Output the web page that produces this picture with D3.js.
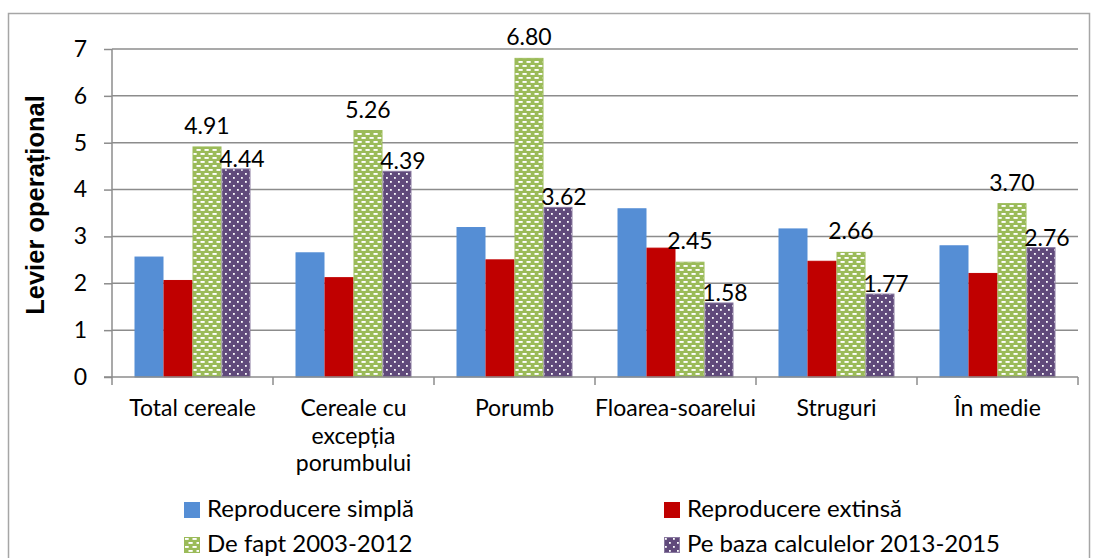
<!DOCTYPE html>
<html>
<head>
<meta charset="utf-8">
<script src="https://cdnjs.cloudflare.com/ajax/libs/d3/7.8.5/d3.min.js"></script>
<style>
  body { margin: 0; background: #fff; }
  svg { display: block; }
</style>
</head>
<body>
<svg id="chart"></svg>
<script>
// data
const categories = ["Total cereale", "Cereale cu excepția porumbului", "Porumb", "Floarea-soarelui", "Struguri", "În medie"];
const categoryLines = [["Total cereale"], ["Cereale cu", "excepția", "porumbului"], ["Porumb"], ["Floarea-soarelui"], ["Struguri"], ["În medie"]];
const seriesNames = ["Reproducere simplă", "Reproducere extinsă", "De fapt 2003-2012", "Pe baza calculelor 2013-2015"];
const simpla = [2.56, 2.65, 3.19, 3.59, 3.16, 2.80];
const extinsa = [2.06, 2.12, 2.50, 2.75, 2.47, 2.21];
const deFapt = [4.91, 5.26, 6.80, 2.45, 2.66, 3.70];
const calcule = [4.44, 4.39, 3.62, 1.58, 1.77, 2.76];
const yTicks = [0, 1, 2, 3, 4, 5, 6, 7];

const values = [simpla, extinsa, deFapt, calcule];
const labelled = [false, false, true, true];

const W = 1100, H = 558;
const font = "Lato, 'Open Sans', sans-serif";

const svg = d3.select("#chart")
    .attr("width", W)
    .attr("height", H);

const defs = svg.append("defs");

// green: white horizontal dashes, staggered
const pg = defs.append("pattern")
    .attr("id", "dash")
    .attr("patternUnits", "userSpaceOnUse")
    .attr("width", 8).attr("height", 8);
pg.append("rect").attr("width", 8).attr("height", 8).attr("fill", "#9bbb59");
pg.append("rect").attr("x", 0.5).attr("y", 1).attr("width", 4.2).attr("height", 1.9).attr("fill", "#fff");
pg.append("rect").attr("x", 4.5).attr("y", 5).attr("width", 4.2).attr("height", 1.9).attr("fill", "#fff");
pg.append("rect").attr("x", -3.5).attr("y", 5).attr("width", 4.2).attr("height", 1.9).attr("fill", "#fff");

// purple: white dots
const pp = defs.append("pattern")
    .attr("id", "dots")
    .attr("patternUnits", "userSpaceOnUse")
    .attr("width", 8).attr("height", 8);
pp.append("rect").attr("width", 8).attr("height", 8).attr("fill", "#604a7b");
pp.append("rect").attr("x", 1).attr("y", 1).attr("width", 1.8).attr("height", 1.8).attr("fill", "#fff");
pp.append("rect").attr("x", 5).attr("y", 5).attr("width", 1.8).attr("height", 1.8).attr("fill", "#fff");

const fills = ["#558ed5", "#c00000", "url(#dash)", "url(#dots)"];
const strokes = ["#558ed5", "#c00000", "#9bbb59", "#8a7aa0"];

// outer chart border
svg.append("rect")
    .attr("x", 8.5).attr("y", 13.5)
    .attr("width", 1081).attr("height", 600)
    .attr("fill", "none")
    .attr("stroke", "#a6a6a6")
    .attr("stroke-width", 1.5);

const x = d3.scaleBand()
    .domain(categories)
    .range([112, 1078]);

const xs = d3.scaleBand()
    .domain(d3.range(seriesNames.length))
    .range([22.5, x.bandwidth() - 22.5]);

const y = d3.scaleLinear()
    .domain([0, 7])
    .range([377, 49]);

// gridlines
svg.append("g")
    .selectAll("line")
    .data(yTicks.slice(1))
    .enter()
    .append("line")
    .attr("x1", 112).attr("x2", 1078)
    .attr("y1", d => y(d)).attr("y2", d => y(d))
    .attr("stroke", "#8c8c8c")
    .attr("stroke-width", 1.5);

// bars
const groups = svg.append("g")
    .selectAll("g")
    .data(categories)
    .enter()
    .append("g")
    .attr("transform", d => `translate(${x(d)},0)`);

groups.each(function (c, ci) {
    const g = d3.select(this);
    values.forEach((vals, si) => {
        g.append("rect")
            .attr("x", xs(si) + 0.5)
            .attr("y", y(vals[ci]))
            .attr("width", xs.bandwidth() - 1)
            .attr("height", y(0) - y(vals[ci]))
            .attr("fill", fills[si])
            .attr("stroke", strokes[si])
            .attr("stroke-width", 1);
        if (labelled[si]) {
            g.append("text")
                .attr("x", xs(si) + xs.bandwidth() / 2 + (si === 3 ? 6 : 0))
                .attr("y", y(vals[ci]) - (si === 2 ? 13 : 2))
                .attr("text-anchor", "middle")
                .attr("font-family", font)
                .attr("font-size", 23)
                .attr("fill", "#000")
                .text(vals[ci].toFixed(2));
        }
    });
});

// y axis
const yAxis = svg.append("g")
    .attr("transform", "translate(112,0)")
    .call(d3.axisLeft(y).tickValues(yTicks).tickSize(8).tickPadding(17).tickFormat(d3.format("d")));
yAxis.select(".domain").attr("stroke", "#8c8c8c").attr("stroke-width", 1.5).attr("d", `M0,${y(7)}V${y(0)}`);
yAxis.selectAll(".tick line").attr("stroke", "#8c8c8c").attr("stroke-width", 1.5);
yAxis.selectAll(".tick text").attr("font-family", font).attr("font-size", 23).attr("fill", "#000");

// x axis
const xAxisG = svg.append("g");
xAxisG.append("line")
    .attr("x1", 104).attr("x2", 1078)
    .attr("y1", y(0)).attr("y2", y(0))
    .attr("stroke", "#8c8c8c").attr("stroke-width", 1.5);
xAxisG.selectAll(".xtick")
    .data(categories.concat([null]))
    .enter()
    .append("line")
    .attr("x1", (d, i) => i < categories.length ? x(d) : x(categories[i - 1]) + x.bandwidth())
    .attr("x2", (d, i) => i < categories.length ? x(d) : x(categories[i - 1]) + x.bandwidth())
    .attr("y1", y(0)).attr("y2", y(0) + 8)
    .attr("stroke", "#8c8c8c").attr("stroke-width", 1.5);

const catText = xAxisG.selectAll(".cat")
    .data(categories)
    .enter()
    .append("text")
    .attr("x", d => x(d) + x.bandwidth() / 2)
    .attr("y", 416)
    .attr("text-anchor", "middle")
    .attr("font-family", font)
    .attr("font-size", 23)
    .attr("fill", "#000");
catText.each(function (d, i) {
    d3.select(this).selectAll("tspan")
        .data(categoryLines[i])
        .enter()
        .append("tspan")
        .attr("x", x(d) + x.bandwidth() / 2)
        .attr("dy", (l, j) => j === 0 ? 0 : 27.5)
        .text(l => l);
});

// y axis title
svg.append("text")
    .attr("transform", "translate(44,205) rotate(-90)")
    .attr("text-anchor", "middle")
    .attr("font-family", "'Liberation Sans', Arial, sans-serif")
    .attr("font-weight", "bold")
    .attr("font-size", 25.5)
    .attr("fill", "#000")
    .text("Levier operațional");

// legend
const legendPos = [[184, 502], [664, 502], [184, 537], [664, 537]];
const legend = svg.append("g")
    .selectAll("g")
    .data(seriesNames)
    .enter()
    .append("g")
    .attr("transform", (d, i) => `translate(${legendPos[i][0]},${legendPos[i][1]})`);
legend.append("rect")
    .attr("x", 0.5).attr("y", 0.5)
    .attr("width", 15).attr("height", 15)
    .attr("fill", (d, i) => fills[i])
    .attr("stroke", (d, i) => strokes[i]);
legend.append("text")
    .attr("x", 23)
    .attr("y", 15)
    .attr("font-family", font)
    .attr("font-size", 24)
    .attr("fill", "#000")
    .text(d => d);
</script>
</body>
</html>
